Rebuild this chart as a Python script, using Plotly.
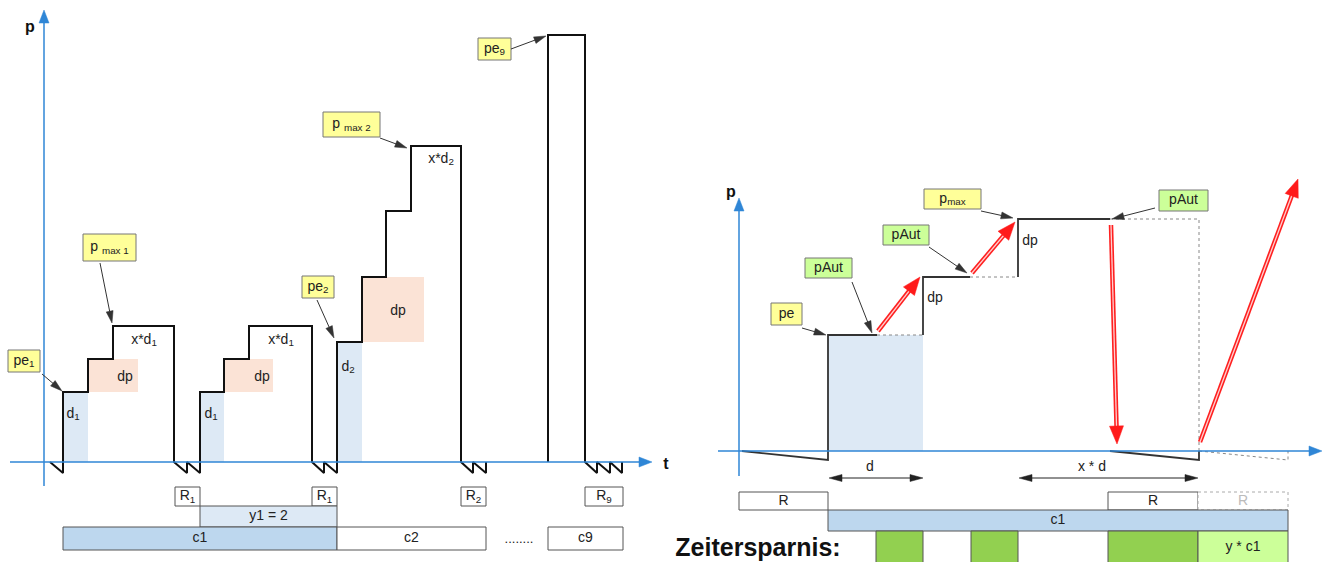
import plotly.graph_objects as go
import math

W, H = 1324, 562
FONT = "Liberation Sans, Arial, sans-serif"
BLUE = "#2f86d6"
BLACK = "#222222"

# ---------------- left diagram: pressure trace (diagram units = pixels) ----------------
L_TRACE_X = [50, 63, 63, 88, 88, 113, 113, 174, 174, 187, 187, 199, 200, 200, 224, 224, 249, 249, 312, 312,
             324, 324, 336, 337, 337, 362, 362, 386, 386, 411, 411, 461, 461, 473, 473, 486, 486, None,
             548, 548, 585, 585, 597, 597, 610, 610, 622, 622]
L_TRACE_Y = [462, 473, 392, 392, 359, 359, 326, 326, 462, 473, 462, 473, 473, 392, 392, 359, 359, 326, 326, 462,
             473, 462, 473, 473, 342, 342, 277, 277, 211, 211, 146, 146, 462, 473, 462, 473, 462, None,
             462, 35, 35, 462, 473, 462, 473, 462, 473, 462]

# filled areas (x0, x1, y0, y1, colour)
FILL_RECTS = [
    (63, 88, 392, 462, "#dde9f5"), (88, 138, 359, 392, "#fbe3d6"),
    (200, 224, 392, 462, "#dde9f5"), (224, 273, 359, 392, "#fbe3d6"),
    (337, 362, 342, 462, "#dde9f5"), (362, 424, 277, 342, "#fbe3d6"),
    (828, 923, 335, 451, "#dde9f5"),
]

# plain labels (x, y, text, size, bold)
TEXTS = [
    (30, 28, "p", 16, True), (666, 465, "t", 16, True),
    (73, 414, "d<sub>1</sub>", 14, False), (125, 377, "dp", 14, False), (144, 340, "x*d<sub>1</sub>", 14, False),
    (211, 414, "d<sub>1</sub>", 14, False), (262, 377, "dp", 14, False), (281, 340, "x*d<sub>1</sub>", 14, False),
    (348, 367, "d<sub>2</sub>", 14, False), (398, 311, "dp", 14, False), (441, 159, "x*d<sub>2</sub>", 14, False),
    (519, 540, "........", 13, False),
    (731, 193, "p", 16, True),
    (935, 298, "dp", 14, False), (1030, 241, "dp", 14, False),
    (870, 467, "d", 14, False), (1092, 467, "x * d", 14, False),
    (758, 550, "Zeitersparnis:", 25, True),
]

# callout boxes (x0, x1, y0, y1, fill, text)
CALLOUTS = [
    (8, 40, 350, 372, "#ffff99", "pe<sub>1</sub>"),
    (83, 136, 234, 261, "#ffff99", "p <sub>max 1</sub>"),
    (302, 334, 276, 298, "#ffff99", "pe<sub>2</sub>"),
    (323, 380, 112, 137, "#ffff99", "p <sub>max 2</sub>"),
    (478, 511, 38, 60, "#ffff99", "pe<sub>9</sub>"),
    (771, 802, 303, 325, "#ffff99", "pe"),
    (805, 852, 258, 278, "#ccff99", "pAut"),
    (883, 929, 225, 245, "#ccff99", "pAut"),
    (924, 981, 189, 209, "#ffff99", "p<sub>max</sub>"),
    (1159, 1208, 190, 211, "#ccff99", "pAut"),
]
# callout pointer arrows (tail x, tail y, tip x, tip y)
POINTERS = [
    (42, 374, 62, 391), (100, 263, 112, 323), (317, 300, 334, 338), (380, 138, 407, 148), (511, 49, 546, 36),
    (802, 328, 826, 335), (852, 282, 872, 333), (929, 247, 967, 273), (981, 211, 1013, 218), (1155, 208, 1112, 219),
]

# timeline boxes (x0, x1, y0, y1, fill, text, text colour, dashed)
BLOCKS = [
    (175, 200, 487, 506, "white", "R<sub>1</sub>", BLACK, False),
    (312, 337, 487, 506, "white", "R<sub>1</sub>", BLACK, False),
    (200, 337, 506, 527, "#dde9f5", "y1 = 2", BLACK, False),
    (63, 337, 527, 550, "#bdd7ee", "c1", BLACK, False),
    (337, 486, 527, 550, "white", "c2", BLACK, False),
    (548, 623, 527, 550, "white", "c9", BLACK, False),
    (461, 486, 487, 506, "white", "R<sub>2</sub>", BLACK, False),
    (585, 623, 487, 506, "white", "R<sub>9</sub>", BLACK, False),
    (739, 828, 492, 510, "white", "R", BLACK, False),
    (1108, 1198, 492, 510, "white", "R", BLACK, False),
    (1198, 1288, 492, 510, "white", "R", "#bbbbbb", True),
    (828, 1288, 510, 531, "#bdd7ee", "c1", BLACK, False),
    (876, 923, 531, 570, "#92d050", "", BLACK, False),
    (971, 1018, 531, 570, "#92d050", "", BLACK, False),
    (1108, 1198, 531, 570, "#92d050", "", BLACK, False),
    (1198, 1288, 531, 570, "#ccff99", "y * c1", BLACK, False),
]

# ---------------- right diagram ----------------
R_TRACE_X = [742, 828, 828, 877, None, 923, 923, 970, None, 1018, 1018, 1110, None, 1110, 1199, 1199]
R_TRACE_Y = [451, 460, 335, 335, None, 335, 277, 277, None, 277, 219, 219, None, 451, 460, 451]
R_DOTTED_X = [877, 923, None, 970, 1018, None, 1110, 1199, 1199, None, 1199, 1288, 1288]
R_DOTTED_Y = [335, 335, None, 277, 277, None, 219, 219, 451, None, 451, 460, 451]

RED_ARROWS = [(878, 331, 920, 277), (972, 273, 1015, 222), (1111, 225, 1117, 444), (1200, 442, 1298, 179)]
SPAN_ARROWS = [(829, 923, 478), (1019, 1198, 478)]

# axes (tail x, tail y, tip x, tip y)
AXES = [(44, 486, 44, 10), (10, 462, 652, 462), (739, 476, 739, 198), (718, 451, 1322, 451)]


def head(tx, ty, hx, hy, length, half):
    """polygon points of an arrow head whose tip is (hx, hy)"""
    L = math.hypot(hx - tx, hy - ty)
    ux, uy = (hx - tx) / L, (hy - ty) / L
    bx, by = hx - ux * length, hy - uy * length
    px, py = -uy * half, ux * half
    return [hx, bx + px, bx - px, hx, None], [hy, by + py, by - py, hy, None]


def shorten(tx, ty, hx, hy, d):
    L = math.hypot(hx - tx, hy - ty)
    f = 1 - d / L
    return tx + (hx - tx) * f, ty + (hy - ty) * f


def add_arrows(fig, arrows, color, width, hl, hw, both=False):
    lx, ly, px, py = [], [], [], []
    for tx, ty, hx, hy in arrows:
        ex, ey = shorten(tx, ty, hx, hy, hl * 0.6)
        sx, sy = (shorten(hx, hy, tx, ty, hl * 0.6) if both else (tx, ty))
        lx += [sx, ex, None]
        ly += [sy, ey, None]
        a, b = head(tx, ty, hx, hy, hl, hw)
        px += a
        py += b
        if both:
            a, b = head(hx, hy, tx, ty, hl, hw)
            px += a
            py += b
    fig.add_trace(go.Scatter(x=lx, y=ly, mode="lines", line=dict(color=color, width=width), hoverinfo="skip"))
    fig.add_trace(go.Scatter(x=px, y=py, mode="lines", fill="toself", fillcolor=color,
                             line=dict(color=color, width=0.5), hoverinfo="skip"))


fig = go.Figure()
shapes = []
labels = []  # (x, y, text, size, bold, colour)

for x0, x1, y0, y1, c in FILL_RECTS:
    shapes.append(dict(type="rect", x0=x0, x1=x1, y0=y0, y1=y1, fillcolor=c, line=dict(width=0), layer="below"))

for x0, x1, y0, y1, c, t, tc, dashed in BLOCKS:
    shapes.append(dict(type="rect", x0=x0, x1=x1, y0=y0, y1=y1, fillcolor=c,
                       line=dict(color="#aaaaaa" if dashed else "#555555", width=1, dash="dot" if dashed else "solid"),
                       layer="below"))
    if t:
        yc = (y0 + min(y1, 562)) / 2 + (1 if y1 > 562 else 0)
        labels.append(((x0 + x1) / 2, yc, t, 14, False, tc))

for x0, x1, y0, y1, c, t in CALLOUTS:
    shapes.append(dict(type="rect", x0=x0, x1=x1, y0=y0, y1=y1, fillcolor=c,
                       line=dict(color="#777777", width=1), layer="below"))
    labels.append(((x0 + x1) / 2, (y0 + y1) / 2, t, 14, False, BLACK))

fig.add_trace(go.Scatter(x=R_DOTTED_X, y=R_DOTTED_Y, mode="lines",
                         line=dict(color="#888888", width=1, dash="dot"), hoverinfo="skip"))
fig.add_trace(go.Scatter(x=L_TRACE_X, y=L_TRACE_Y, mode="lines",
                         line=dict(color="#111111", width=2), hoverinfo="skip"))
fig.add_trace(go.Scatter(x=R_TRACE_X, y=R_TRACE_Y, mode="lines",
                         line=dict(color="#333333", width=1.8), hoverinfo="skip"))

add_arrows(fig, AXES, BLUE, 1.5, 13, 5)
add_arrows(fig, POINTERS, "#333333", 1, 12, 3.5)
add_arrows(fig, [(x0, y, x1, y) for x0, x1, y in SPAN_ARROWS], "#222222", 1, 13, 3.5, both=True)

rx, ry, wx, wy, hx_, hy_ = [], [], [], [], [], []
for tx, ty, hx, hy in RED_ARROWS:
    ex, ey = shorten(tx, ty, hx, hy, 12)
    rx += [tx, ex, None]
    ry += [ty, ey, None]
    ex2, ey2 = shorten(tx, ty, hx, hy, 15)
    wx += [tx, ex2, None]
    wy += [ty, ey2, None]
    a, b = head(tx, ty, hx, hy, 18, 7)
    hx_ += a
    hy_ += b
fig.add_trace(go.Scatter(x=rx, y=ry, mode="lines", line=dict(color="#ff2020", width=4.5), hoverinfo="skip"))
fig.add_trace(go.Scatter(x=wx, y=wy, mode="lines", line=dict(color="#ffd0d0", width=1.3), hoverinfo="skip"))
fig.add_trace(go.Scatter(x=hx_, y=hy_, mode="lines", fill="toself", fillcolor="#ff1a1a",
                         line=dict(color="#ff1a1a", width=0.5), hoverinfo="skip"))

for x, y, t, s, b in TEXTS:
    labels.append((x, y, t, s, b, "#111111" if b else BLACK))

# group texts by style into text traces
groups = {}
for x, y, t, s, b, c in labels:
    groups.setdefault((s, b, c), []).append((x, y, f"<b>{t}</b>" if b else t))
for (s, b, c), items in groups.items():
    fig.add_trace(go.Scatter(x=[i[0] for i in items], y=[i[1] for i in items], text=[i[2] for i in items],
                             mode="text", textposition="middle center",
                             textfont=dict(family=FONT, size=s, color=c), hoverinfo="skip"))

fig.update_layout(
    width=W, height=H, margin=dict(l=0, r=0, t=0, b=0),
    paper_bgcolor="white", plot_bgcolor="white", showlegend=False,
    xaxis=dict(range=[0, W], visible=False, fixedrange=True),
    yaxis=dict(range=[H, 0], visible=False, fixedrange=True),
    shapes=shapes,
)

fig.write_html("out.html", config={"displayModeBar": False},
               post_script="document.body.style.margin='0';document.body.style.overflow='hidden';")
